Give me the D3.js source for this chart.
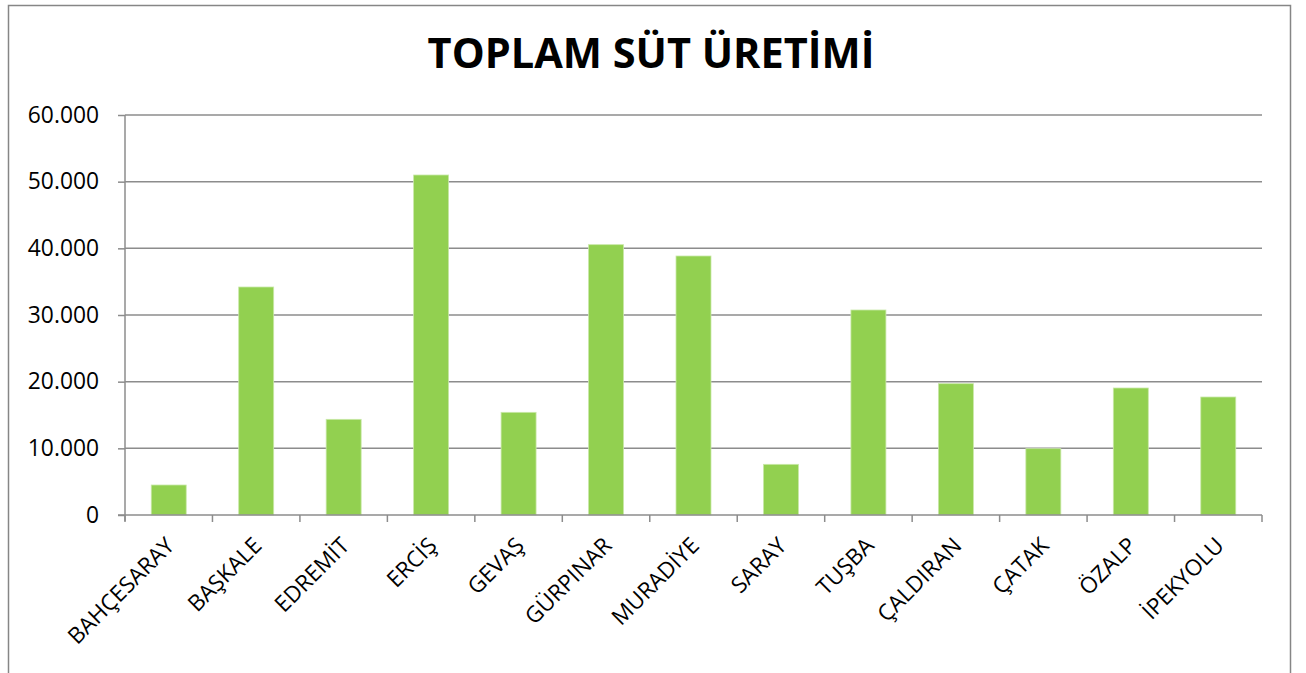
<!DOCTYPE html>
<html>
<head>
<meta charset="utf-8">
<script src="https://cdn.jsdelivr.net/npm/d3@7"></script>
<style>
	body { margin: 0; background: #fff; }
	svg text { font-family: "Open Sans", "DejaVu Sans", sans-serif; fill: #000; }
</style>
</head>
<body>
<div id="bar_chart"></div>
<script>
var districts = ["BAHÇESARAY", "BAŞKALE", "EDREMİT", "ERCİŞ", "GEVAŞ", "GÜRPINAR", "MURADİYE",
	"SARAY", "TUŞBA", "ÇALDIRAN", "ÇATAK", "ÖZALP", "İPEKYOLU"];
var milk = [4500, 34200, 14350, 51000, 15400, 40550, 38850, 7600, 30750, 19700, 9950, 19050, 17700];
var yTicks = [0, 10000, 20000, 30000, 40000, 50000, 60000];
var title = "TOPLAM SÜT ÜRETİMİ";

var W = 1306, H = 673;
var margin = {top: 115, right: 44, bottom: 158, left: 125},
	width = 1262 - margin.left,
	height = 515 - margin.top;

var data = districts.map(function(d, i) { return {"text": d, "value": milk[i]}; });

var root = d3.select("#bar_chart")
	.append("svg")
	.attr("width", W)
	.attr("height", H);

// outer chart border
root.append("rect")
	.attr("x", 8.5).attr("y", 5.5)
	.attr("width", 1282).attr("height", 700)
	.style("fill", "none")
	.style("stroke", "#868686")
	.style("stroke-width", 1.5);

root.append("text")
	.attr("x", 651).attr("y", 68)
	.attr("text-anchor", "middle")
	.style("font-size", "41.5px")
	.style("font-weight", "bold")
	.text(title);

var svg = root.append("g")
	.attr("transform", "translate(" + margin.left + "," + margin.top + ")");

var x = d3.scaleBand()
	.domain(districts)
	.range([0, width])
	.paddingInner(0.6)
	.paddingOuter(0.3);

var xTick = d3.scaleBand().domain(districts).range([0, width]);

var y = d3.scaleLinear()
	.domain([0, 60000])
	.range([height, 0]);

var fmt = function(v) { return v === 0 ? "0" : d3.format(",")(v).replace(/,/g, "."); };

// gridlines
svg.append("g")
	.selectAll("line")
	.data(yTicks.slice(1))
	.enter().append("line")
	.attr("x1", 0).attr("x2", width)
	.attr("y1", function(d) { return y(d); })
	.attr("y2", function(d) { return y(d); })
	.style("stroke", "#8c8c8c")
	.style("stroke-width", 1.5);

var yAxis = d3.axisLeft(y).tickValues(yTicks).tickFormat(fmt).tickSize(7).tickPadding(19);
var gy = svg.append("g").attr("class", "y axis").call(yAxis);
gy.select(".domain").remove();
gy.append("line").attr("x1", 0).attr("x2", 0).attr("y1", 0).attr("y2", height + 6);
gy.selectAll("line").style("stroke", "#8c8c8c").style("stroke-width", 1.5);
gy.selectAll("text").style("font-size", "22.8px").style("font-family", "'Open Sans', sans-serif");

svg.selectAll(".bar")
	.data(data)
	.enter().append("rect")
	.attr("class", "bar")
	.attr("x", function(d) { return x(d.text); })
	.attr("width", x.bandwidth())
	.attr("y", function(d) { return y(d.value); })
	.attr("height", function(d) { return height - y(d.value); })
	.style("fill", "#92d050")
	.style("stroke", "#c9e8a8")
	.style("stroke-width", 0.8);

// x axis line with ticks on category boundaries
var gx = svg.append("g").attr("class", "x axis").attr("transform", "translate(0," + height + ")");
gx.append("line").attr("x1", -7).attr("x2", width).attr("y1", 0).attr("y2", 0);
gx.selectAll(".tk")
	.data(districts.concat(["_end"]))
	.enter().append("line")
	.attr("class", "tk")
	.attr("x1", function(d, i) { return i * xTick.step(); })
	.attr("x2", function(d, i) { return i * xTick.step(); })
	.attr("y1", 0).attr("y2", 7);
gx.selectAll("line").style("stroke", "#8c8c8c").style("stroke-width", 1.5);

gx.selectAll(".lbl")
	.data(districts)
	.enter().append("text")
	.attr("class", "lbl")
	.attr("text-anchor", "end")
	.attr("transform", function(d) {
		return "translate(" + (xTick(d) + xTick.bandwidth() / 2 + 7) + ",32) rotate(-45)";
	})
	.style("font-size", "22.5px")
	.text(function(d) { return d; });
</script>
</body>
</html>
